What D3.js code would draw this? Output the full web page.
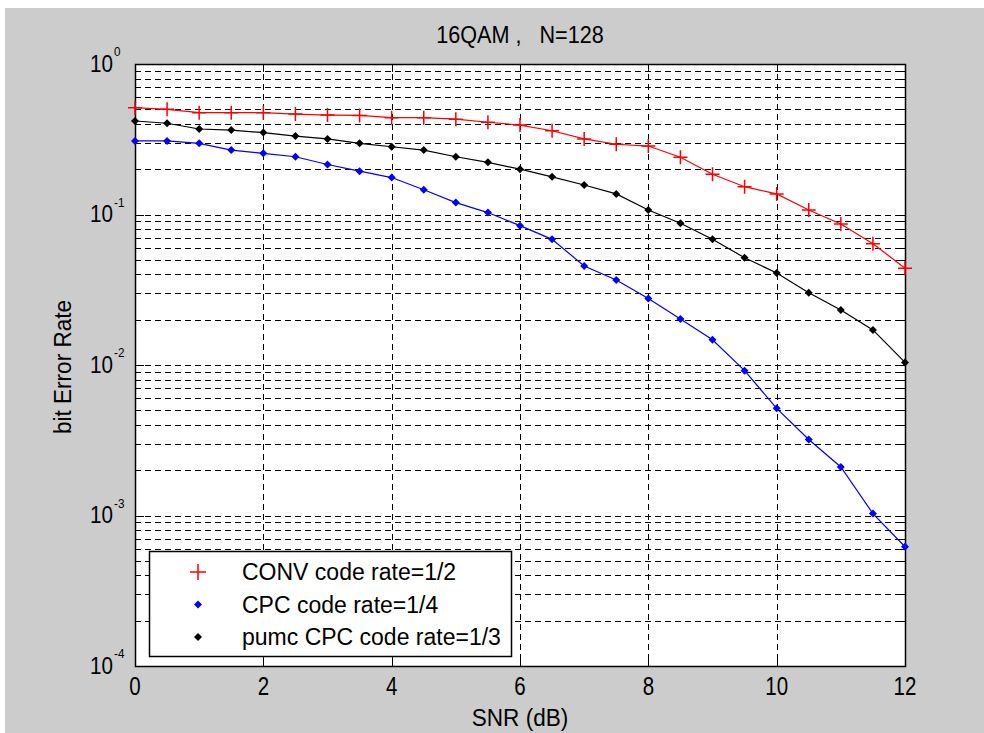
<!DOCTYPE html>
<html>
<head>
<meta charset="utf-8">
<script src="https://cdn.jsdelivr.net/npm/d3@7"></script>
<style>
  body { margin: 0; background: #fff; }
  svg text { font-family: "Liberation Sans", Arial, sans-serif; fill: #000; white-space: pre; }
</style>
</head>
<body>
<div id="chart"></div>
<script>
// SNR values (dB)
const snr = [0, 0.5, 1, 1.5, 2, 2.5, 3, 3.5, 4, 4.5, 5, 5.5, 6, 6.5, 7, 7.5, 8, 8.5, 9, 9.5, 10, 10.5, 11, 11.5, 12];

// bit error rates
const convBer = [0.513, 0.50, 0.475, 0.475, 0.475, 0.465, 0.458, 0.455, 0.44, 0.44, 0.43, 0.41, 0.393,
    0.36, 0.318, 0.293, 0.285, 0.24, 0.185, 0.153, 0.137, 0.107, 0.0865, 0.064, 0.044];
const cpcBer = [0.308, 0.308, 0.297, 0.268, 0.255, 0.242, 0.215, 0.194, 0.176, 0.146, 0.12, 0.103, 0.0843,
    0.0684, 0.0455, 0.0367, 0.0277, 0.0202, 0.0147, 0.00917, 0.00515, 0.0032, 0.0021, 0.00103, 0.00062];
const pumcBer = [0.418, 0.404, 0.37, 0.364, 0.35, 0.332, 0.318, 0.297, 0.282, 0.268, 0.242, 0.222, 0.2,
    0.178, 0.157, 0.137, 0.107, 0.0874, 0.0684, 0.0516, 0.0409, 0.0302, 0.0232, 0.0171, 0.0104];

const xTicks = [0, 2, 4, 6, 8, 10, 12];
const yExponents = [0, -1, -2, -3, -4];

const seriesNames = ["CONV code rate=1/2", "CPC code rate=1/4", "pumc CPC code rate=1/3"];
const seriesColors = ["#ff0000", "#0000ff", "#000000"];
const seriesMarkers = ["plus", "dot", "dot"];
const seriesData = [convBer, cpcBer, pumcBer];

const W = 984, H = 733;
const margin = { top: 64, right: 79, bottom: 67, left: 135 };
const width = W - margin.left - margin.right;
const height = H - margin.top - margin.bottom;

const svg = d3.select("#chart").append("svg")
    .attr("width", W)
    .attr("height", H);

// text with a horizontal squeeze, the original font is narrow
function label(parent, x, y, str, size, sx, anchor, rotate) {
    return parent.append("text")
        .attr("transform", `translate(${x},${y})${rotate ? " rotate(" + rotate + ")" : ""} scale(${sx},1)`)
        .attr("text-anchor", anchor || "start")
        .attr("font-size", size)
        .text(str);
}

// grey figure background
svg.append("rect")
    .attr("x", 5).attr("y", 8)
    .attr("width", W - 5).attr("height", H - 8)
    .attr("fill", "#cccccc");

const g = svg.append("g")
    .attr("transform", `translate(${margin.left},${margin.top})`);

const x = d3.scaleLinear().domain([0, 12]).range([0, width]);
const y = d3.scaleLog().domain([1e-4, 1]).range([height, 0]);

g.append("rect")
    .attr("width", width).attr("height", height)
    .attr("fill", "#fff");

// minor + major y values
const yAll = [];
for (let e = -4; e < 0; e++) {
    for (let m = 1; m <= 9; m++) yAll.push(m * Math.pow(10, e));
}
yAll.push(1);

// grid
const grid = g.append("g")
    .attr("stroke", "#000")
    .attr("stroke-width", 1)
    .attr("stroke-dasharray", "6,4");

grid.selectAll(".gy")
    .data(yAll.filter(v => v > 1e-4 && v < 1))
    .enter().append("line")
    .attr("x1", 0).attr("x2", width)
    .attr("y1", d => Math.round(y(d)) + 0.5)
    .attr("y2", d => Math.round(y(d)) + 0.5);

grid.selectAll(".gx")
    .data(xTicks.filter(v => v > 0 && v < 12))
    .enter().append("line")
    .attr("y1", 0).attr("y2", height)
    .attr("x1", d => Math.round(x(d)) + 0.5)
    .attr("x2", d => Math.round(x(d)) + 0.5);

// ticks on all four sides (inward)
const ticks = g.append("g").attr("stroke", "#000").attr("stroke-width", 1);
yAll.forEach(v => {
    const yy = Math.round(y(v)) + 0.5;
    const major = Math.abs(Math.log10(v) - Math.round(Math.log10(v))) < 1e-9;
    const len = major ? 9 : 5;
    ticks.append("line").attr("x1", 0).attr("x2", len).attr("y1", yy).attr("y2", yy);
    ticks.append("line").attr("x1", width - len).attr("x2", width).attr("y1", yy).attr("y2", yy);
});
xTicks.forEach(v => {
    const xx = Math.round(x(v)) + 0.5;
    ticks.append("line").attr("x1", xx).attr("x2", xx).attr("y1", height).attr("y2", height - 8);
    ticks.append("line").attr("x1", xx).attr("x2", xx).attr("y1", 0).attr("y2", 8);
});

// frame
g.append("rect")
    .attr("x", 0.5).attr("y", 0.5)
    .attr("width", width).attr("height", height)
    .attr("fill", "none").attr("stroke", "#000").attr("stroke-width", 1.5);

// x tick labels
xTicks.forEach(v => {
    label(g, x(v), height + 29, v, 25, 0.82, "middle");
});

// y tick labels 10^e
yExponents.forEach(e => {
    const ty = y(Math.pow(10, e));
    label(g, -22, ty + 7.5, "10", 24, 0.86, "end");
    label(g, -21, ty - 8, e, 13, 0.9, "start");
});

// series
const line = d3.line()
    .x((d, i) => x(snr[i]))
    .y(d => y(d));

function marker(parent, type, cx, cy, color, r) {
    if (type === "plus") {
        parent.append("path")
            .attr("d", `M${cx - r},${cy}H${cx + r}M${cx},${cy - r}V${cy + r}`)
            .attr("stroke", color).attr("stroke-width", 1.5);
    } else {
        parent.append("path")
            .attr("d", `M${cx},${cy - r}L${cx + r},${cy}L${cx},${cy + r}L${cx - r},${cy}Z`)
            .attr("fill", color);
    }
}

seriesData.forEach((data, k) => {
    const sg = g.append("g");
    sg.append("path")
        .datum(data)
        .attr("d", line)
        .attr("fill", "none")
        .attr("stroke", seriesColors[k])
        .attr("stroke-width", 1.2);
    data.forEach((d, i) => {
        marker(sg, seriesMarkers[k], x(snr[i]), y(d), seriesColors[k], seriesMarkers[k] === "plus" ? 7 : 4);
    });
});

// legend
const legend = g.append("g").attr("transform", `translate(${149 - margin.left},${551 - margin.top})`);
legend.append("rect")
    .attr("x", 0.5).attr("y", 0.5)
    .attr("width", 362).attr("height", 105)
    .attr("fill", "#fff").attr("stroke", "#000").attr("stroke-width", 1.5);

seriesNames.forEach((name, k) => {
    const ly = 21 + k * 32.5;
    marker(legend, seriesMarkers[k], 49, ly, seriesColors[k], seriesMarkers[k] === "plus" ? 8 : 4);
    label(legend, 93, ly + 8, name, 23, 1, "start");
});

// title and axis labels
label(svg, margin.left + width / 2, 43, "16QAM ,   N=128", 24, 0.9, "middle");
label(svg, margin.left + width / 2, 726, "SNR (dB)", 24, 0.94, "middle");
label(svg, 71, 367, "bit Error Rate", 24, 0.94, "middle", -90);
</script>
</body>
</html>
